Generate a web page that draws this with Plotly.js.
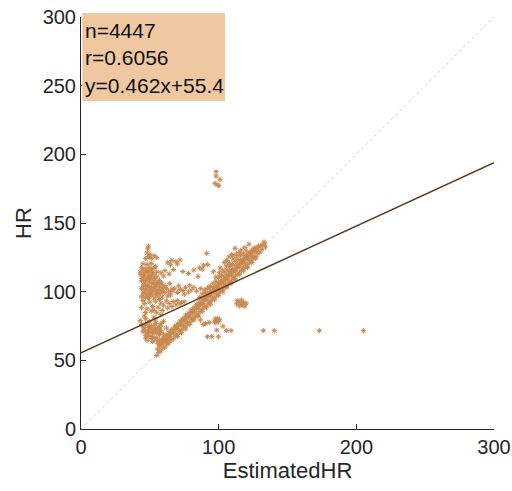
<!DOCTYPE html>
<html>
<head>
<meta charset="utf-8">
<script src="https://cdn.plot.ly/plotly-3.0.1.min.js"></script>
<style>html,body{margin:0;padding:0;background:#fff;}#chart{width:512px;height:491px;}</style>
</head>
<body>
<div id="chart"></div>
<script>
// ---- data (EstimatedHR, HR) ----
const bandAx = [55,56.5,58,59.5,61,62.5,64,65.5,67,68.5,70,71.5,73,74.5,76,77.5,79,80.5,82,83.5,85,86.5,88,89.5,91,92.5,94,95.5,97,98.5,100,101.5,103,104.5,106,107.5,109,110.5,112,113.5,115,116.5,118,119.5,121,122.5,124,125.5,127,128.5,130,131.5];
const bandAy = [53.6,55.8,56.9,58.9,59.7,61.7,62.9,64.8,65.6,67.7,68.9,70.8,71.6,73.7,74.9,76.8,77.6,79.7,80.9,82.8,83.6,85.7,86.9,88.8,89.6,91.7,92.9,94.8,95.6,97.7,98.9,100.8,101.6,103.7,104.9,106.8,107.6,109.7,110.9,112.8,113.6,115.7,116.9,118.8,119.6,121.7,122.9,124.8,125.6,127.7,128.9,130.8];
const bandA2x = [70,73,76,79,82,85,88,91,94,97,100,103,106,109,112,115,118,121,124,127];
const bandA2y = [67.4,70.1,72.8,76.2,79.3,81.9,85.4,88.2,90.8,94.1,97.3,99.8,103.2,106.1,108.7,112.4,115.1,117.6,121.2,124.3];
const bandBx = [55.5,57,58.5,60,61.5,63,64.5,66,67.5,69,70.5,72,73.5,75,76.5,78,79.5,81,82.5,84,85.5,87,88.5,90,91.5,93,94.5,96,97.5,99,100.5,102,103.5,105,106.5,108,109.5,111,112.5,114,115.5,117,118.5,120,121.5,123,124.5,126,127.5,129,130.5,132];
const bandBy = [58.2,60.4,61.3,63.5,64.2,66.4,67.3,69.5,70.2,72.4,73.3,75.5,76.2,78.4,79.3,81.5,82.2,84.4,85.3,87.5,88.2,90.4,91.3,93.5,94.2,96.4,97.3,99.5,100.2,102.4,103.3,105.5,106.2,108.4,109.3,111.5,112.2,114.4,115.3,117.5,118.2,120.4,121.3,123.5,124.2,126.4,127.3,129.5,130.2,132.4,133.1,134.3];
const bandBCx = [57,59,61,63,65,67,69,71,73,75,77,79,81,83,85,87,89,91,93,95,97,99,101,103,105,107,109,111,113,115,117,119,121,123,125,127,129];
const bandBCy = [61.8,64.3,65.7,68.2,69.9,72.4,73.8,76.1,77.9,80.3,81.8,84.2,85.7,88.3,89.8,92.1,93.9,96.2,97.8,100.3,101.7,104.2,105.9,108.1,109.8,112.3,113.7,116.2,117.9,120.1,121.8,124.3,125.7,128.1,129.9,131.6,133.2];
const bandCx = [62,64,66,68,70,72,74,76,78,80,82,84,86,88,90,92,94,96,98,100,102,104,106,108,110,112,114,116,118,120,122,124,126];
const bandCy = [68.1,70.9,72.3,74.8,76.2,78.7,80.4,82.9,84.1,86.8,88.3,90.6,92.2,94.9,96.4,98.7,100.1,102.8,104.3,106.6,108.2,110.9,112.4,114.7,116.1,118.8,120.3,122.6,124.2,126.4,128.1,130.2,131.8];
const bandDx = [86,88,90,92,94,96,98,100,102,104,106,108,110,112,114,116,118,120];
const bandDy = [95.7,98.4,99.6,102.3,103.8,106.1,107.6,110.4,111.7,114.2,115.9,118.3,119.8,122.1,123.7,126.2,127.4,129.6];
const bandEx = [98,100.5,103,105.5,108,110.5,113,115.5,133.5,134,133];
const bandEy = [110.6,113.8,115.7,118.9,120.6,123.8,125.9,128.4,134.8,132.6,136.1];
const leftX = [44,47,50,53,56,59,45.5,48.5,51.5,54.5,57.5,60.5,63.5,44,47,50,53,56,59,62,66,45.5,48.5,51.5,54.5,57.5,61,64.5,44,47,50,53,57,45.5,48.5,51.5,55];
const leftY = [96.2,95.8,96.7,95.4,96.9,96.1,99.3,98.7,99.8,99.1,98.6,99.5,99.9,102.4,101.8,102.9,102.1,101.6,102.7,102.2,101.9,105.1,104.6,105.7,104.9,105.3,104.4,105.8,108.2,107.7,108.6,107.9,108.3,111.1,110.6,111.4,110.8];
const leftFillX = [45,48,51,54,46.5,49.5,52.5,55.5,58.5,45,48,51,54,57,60,46.5,49.5,52.5,55.5,58.5,44.5,47.5,50.5,53.5,43.5,46.5,49.5,52.5,45,48,51,54];
const leftFillY = [97.8,97.4,98.1,97.6,100.9,100.6,101.2,100.3,100.8,103.6,103.9,103.2,103.7,103.4,103.1,106.4,106.9,106.2,106.7,106.5,109.6,109.2,109.9,109.4,112.4,112.8,112.1,112.6,115.6,115.2,115.9,118.4];
const leftTopX = [43,46,49,52,55,44,47,50,53,45,48,51,47,49,48,50,48.5,49,51,53,55];
const leftTopY = [114.2,113.7,114.6,113.9,114.3,117.4,116.8,117.6,116.9,120.3,119.8,120.6,124.1,125.6,128.2,127.1,131.2,133.1,124.3,126.2,124.8];
const leftLowX = [44,46,48,50,52,54,56,58,60,62,64,67,70,73,45,49,53,57,47,51,55,59,63,66,69,72,75,46,53,58];
const leftLowY = [88.3,91.2,87.6,92.4,89.1,93.1,88.7,91.6,90.2,93.3,91.4,92.8,93.5,92.1,93.6,95.1,86.4,94.4,84.8,85.9,84.6,86.3,88.1,89.2,90.4,91.2,92.6,82.1,81.4,83.2];
const streakX = [66,68,70,72,74,76,78,80,82,84,87,90,93,71,75,79,63,65];
const streakY = [100.3,102.1,99.4,101.6,100.8,102.9,99.7,101.2,103.1,100.4,102.2,101.5,103.4,104.2,98.2,104.6,96.8,97.6];
const midX = [63,66,69,72,65,70,58,61,64,67,60,74,78,82,86,89,91.3,85,88,92];
const midY = [121.4,122.8,121.9,123.1,119.6,120.2,113.8,115.2,112.9,116.1,111.4,114.7,113.2,115.8,117.3,118.9,127.9,111.2,116.4,119.7];
const upperX = [96.1,101,105.8,107.5,109.5,111.9,113,116,119,122,104,110];
const upperY = [114.5,117.3,122.7,125.3,127.1,131.6,127.4,130.1,132.2,134.6,121.3,126.2];
const lowLeftX = [44,46,48,50,52,54,56,58,45,47,49,51,53,55,57,59,61,48,52,56,60,62,43,47,50,54,58];
const lowLeftY = [76.2,73.8,77.4,75.1,72.6,76.9,74.3,71.8,70.9,68.2,71.5,67.3,69.8,66.4,68.9,65.7,67.2,64.6,63.8,62.1,78.4,73.5,79.1,80.2,70.3,73.1,76.8];
const lowFillX = [45,47,49,51,53,55,57,46,48,50,52,54,56,58,60,47,49,51,53,55,57,59,61,63,50,54,58];
const lowFillY = [74.6,75.9,73.8,74.2,75.3,72.1,73.4,72.2,70.1,72.9,70.6,71.2,69.8,70.4,69.1,66.4,67.8,65.9,66.7,64.2,64.8,62.9,63.6,65.2,78.1,79.3,75.6];
const strayX = [90.5,93.2,91.8,95.0,99.8,98.6,105.8,109.0,132.4,140.4,173.1,205.1,86.7,88.9,103.1];
const strayY = [76.8,77.6,67.2,67.2,67.2,72.0,71.6,71.6,71.6,71.6,71.6,71.6,79.4,76.2,74.8];
const blobFx = [97,98.5,100,99,97.5,100.5,98];
const blobFy = [78.2,79.6,78.1,80.4,80.1,79.9,77.4];
const blobEx = [113,114.5,116,117.5,119,115,118,120,113.5,116.5];
const blobEy = [91.2,92.8,91.1,90.2,89.4,89.6,92.3,91.6,93.4,93.9];
const topX = [98.1,98.1,101,97.3,99,100.2];
const topY = [187.4,184.2,181.8,178.9,177.7,177.2];

const statN = 4447, statR = 0.6056, fitSlope = 0.462, fitIntercept = 55.4;
const axisMax = 300;
const xTicks = [0, 100, 200, 300];
const yTicks = [0, 50, 100, 150, 200, 250, 300];

const allX = [].concat(bandAx, bandA2x, bandBx, bandBCx, bandCx, bandDx, bandEx, leftX, leftFillX, leftTopX, leftLowX, streakX, midX, upperX, lowLeftX, lowFillX, strayX, blobFx, blobEx, topX);
const allY = [].concat(bandAy, bandA2y, bandBy, bandBCy, bandCy, bandDy, bandEy, leftY, leftFillY, leftTopY, leftLowY, streakY, midY, upperY, lowLeftY, lowFillY, strayY, blobFy, blobEy, topY);

const font = 'Liberation Sans, Arial, Helvetica, sans-serif';
const ink = '#262626';

const traces = [
  {x: [0, axisMax], y: [0, axisMax], mode: 'lines', line: {color: '#c4c4c4', width: 0.7, dash: 'dot'}, hoverinfo: 'skip'},
  {x: allX, y: allY, mode: 'markers', type: 'scatter',
   marker: {symbol: 'asterisk-open', size: 4.5, color: '#c8884f', line: {color: '#c8884f', width: 1}}},
  {x: [0, axisMax], y: [fitIntercept, fitIntercept + fitSlope * axisMax], mode: 'lines', line: {color: '#5b3b20', width: 1.5}}
];

function axis(ticks, extra) {
  return Object.assign({
    range: [0, axisMax], tickvals: ticks, ticktext: ticks.map(String),
    showline: true, linecolor: ink, linewidth: 1, mirror: false,
    ticks: 'inside', ticklen: 5, tickwidth: 1, tickcolor: ink,
    showgrid: false, zeroline: false,
    tickfont: {family: font, size: 20, color: ink}
  }, extra);
}

const layout = {
  width: 512, height: 491,
  margin: {l: 81, r: 18, t: 17, b: 62},
  paper_bgcolor: '#fff', plot_bgcolor: '#fff',
  showlegend: false,
  xaxis: axis(xTicks, {title: {text: 'EstimatedHR', font: {family: font, size: 22, color: ink}, standoff: 2}}),
  yaxis: axis(yTicks, {ticklabelstandoff: 0, title: {text: 'HR', font: {family: font, size: 22, color: ink}, standoff: 4}}),
  shapes: [
    {type: 'rect', xref: 'paper', yref: 'paper', x0: 0.003, x1: 0.3487, y0: 0.796, y1: 1.0097,
     fillcolor: '#efc8a2', line: {width: 0}, layer: 'above'}
  ],
  annotations: [
    {text: 'n=' + statN, y: 0.968},
    {text: 'r=' + statR.toFixed(4), y: 0.9025},
    {text: 'y=' + fitSlope + 'x+' + fitIntercept, y: 0.8345}
  ].map(a => Object.assign({xref: 'paper', yref: 'paper', x: 0.006, xanchor: 'left', yanchor: 'middle',
    showarrow: false, font: {family: font, size: 21, color: '#111'}}, a))
};

Plotly.newPlot('chart', traces, layout, {displayModeBar: false, staticPlot: true});
</script>
</body>
</html>
